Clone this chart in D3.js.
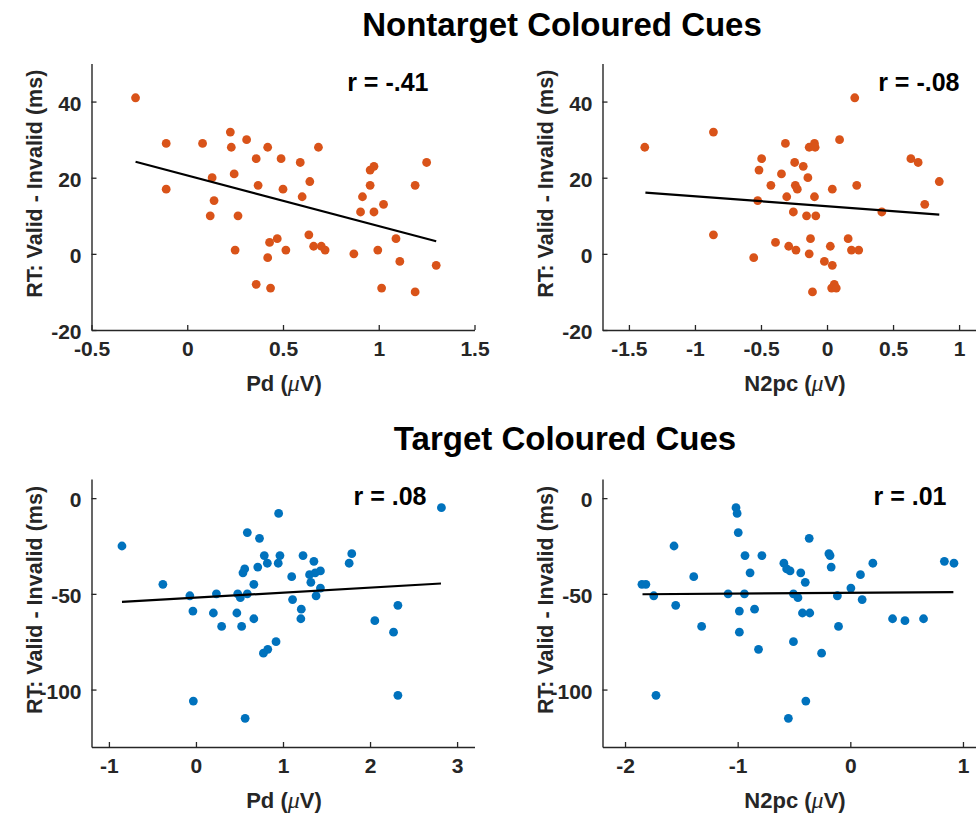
<!DOCTYPE html>
<html><head><meta charset="utf-8">
<script src="https://cdn.jsdelivr.net/npm/d3@7"></script>
<style>html,body{margin:0;padding:0;background:#fff;overflow:hidden}svg{display:block}</style>
</head><body>
<script>
// ---------- data ----------
const sectionTitles = ["Nontarget Coloured Cues", "Target Coloured Cues"];
const yLabel = "RT: Valid - Invalid (ms)";
const xLabels = ["Pd", "N2pc", "Pd", "N2pc"];
const rLabels = ["r = -.41", "r = -.08", "r = .08", "r = .01"];

const xTicks1 = [-0.5, 0, 0.5, 1, 1.5];
const xTicks2 = [-1.5, -1, -0.5, 0, 0.5, 1];
const xTicks3 = [-1, 0, 1, 2, 3];
const xTicks4 = [-2, -1, 0, 1];
const yTicksTop = [-20, 0, 20, 40];
const yTicksBottom = [-100, -50, 0];

const xDomain1 = [-0.5, 1.5];
const xDomain2 = [-1.7, 1.2];
const xDomain3 = [-1.2, 3.2];
const xDomain4 = [-2.2, 1.2];
const yDomainTop = [-20, 50];
const yDomainBottom = [-130, 10];

// Panel 1: Nontarget, Pd
const pdNontargetX = [-0.27,-0.11,-0.11,0.08,0.13,0.14,0.12,0.225,0.23,0.245,0.265,0.25,
  0.31,0.36,0.37,0.36,0.42,0.43,0.47,0.42,0.435,0.49,0.50,0.515,
  0.59,0.60,0.64,0.685,0.635,0.66,0.70,0.72,0.87,0.915,0.905,0.955,
  0.975,0.955,0.975,1.025,0.995,1.015,1.09,1.11,1.19,1.25,1.19,1.30];
const rtNontargetPd = [41,29,17,29,20,14,10,32,28,21,10,1,
  30,25,18,-8,28,3,4,-1,-9,25,17,1,
  24,15,19,28,5,2,2,1,0,15,11,22,
  23,18,11,13,1,-9,4,-2,18,24,-10,-3];

// Panel 2: Nontarget, N2pc
const n2pcNontargetX = [-1.38,-0.86,-0.86,-0.555,-0.525,-0.515,-0.495,-0.425,-0.39,-0.345,
  -0.315,-0.305,-0.29,-0.255,-0.245,-0.24,-0.225,-0.235,-0.18,-0.145,
  -0.155,-0.135,-0.125,-0.135,-0.095,-0.09,-0.095,-0.085,-0.11,-0.02,
  0.025,0.04,0.04,0.035,0.055,0.07,0.095,0.16,0.185,0.24,
  0.21,0.225,0.415,0.635,0.69,0.74,0.85];
const rtNontargetN2pc = [28,32,5,-1,14,22,25,18,3,21,
  29,15,2,11,24,18,17,1,23,20,
  10,0,4,28,29,28,15,10,-10,-2,
  2,17,-3,-9,-8,-9,30,4,1,1,
  41,18,11,25,24,13,19];

// Panel 3: Target, Pd
const pdTargetX = [-0.85,-0.38,-0.07,-0.035,-0.03,0.2,0.235,0.295,0.47,0.48,
  0.51,0.525,0.54,0.56,0.565,0.59,0.59,0.665,0.665,0.71,
  0.73,0.775,0.825,0.785,0.82,0.92,0.945,0.965,0.95,1.10,
  1.11,1.21,1.205,1.23,1.305,1.32,1.355,1.37,1.43,1.43,
  1.38,1.76,1.79,2.055,2.27,2.32,2.32,2.82];
const rtTargetPd = [-25,-45,-51,-59,-106,-60,-50,-67,-60,-50,
  -52,-67,-39,-37,-115,-50,-18,-45,-63,-36,
  -21,-81,-79,-30,-34,-75,-34,-30,-8,-41,
  -53,-58,-63,-30,-40,-44,-33,-39,-38,-47,
  -51,-34,-29,-64,-70,-56,-103,-5];

// Panel 4: Target, N2pc
const n2pcTargetX = [-1.85,-1.815,-1.745,-1.725,-1.565,-1.55,-1.39,-1.32,-1.085,-1.015,
  -1.005,-0.995,-0.985,-0.985,-0.94,-0.935,-0.89,-0.85,-0.815,-0.785,
  -0.59,-0.565,-0.535,-0.55,-0.505,-0.505,-0.465,-0.44,-0.425,-0.4,
  -0.395,-0.365,-0.36,-0.255,-0.19,-0.18,-0.17,-0.115,-0.105,0.005,
  0.09,0.105,0.2,0.375,0.485,0.65,0.835,0.92];
const rtTargetN2pc = [-45,-45,-51,-103,-25,-56,-41,-67,-50,-5,
  -8,-18,-59,-70,-50,-30,-39,-58,-79,-30,
  -34,-37,-38,-115,-50,-75,-52,-39,-60,-44,
  -106,-21,-60,-81,-29,-30,-36,-51,-67,-47,
  -40,-53,-34,-63,-64,-63,-33,-34];

// Regression line end points (x, y)
const fit1X = [-0.27, 1.30],  fit1Y = [24.2, 3.3];
const fit2X = [-1.375, 0.85], fit2Y = [16.1, 10.3];
const fit3X = [-0.85, 2.815], fit3Y = [-54.2, -44.6];
const fit4X = [-1.845, 0.915], fit4Y = [-50.2, -49.1];

// ---------- layout ----------
const W = 976, H = 818;
const ORANGE = "#D95319", BLUE = "#0072BD", AX = "#262626";
const FONT = "'Liberation Sans', Arial, Helvetica, sans-serif";
const fmt = d => String(d);   // plain hyphen-minus like the original

const panels = [
  {x0: 91.5, y0: 63.5, y1: 330, xd: xDomain1, yd: yDomainTop, xt: xTicks1, yt: yTicksTop,
   xs: pdNontargetX, ys: rtNontargetPd, fx: fit1X, fy: fit1Y, color: ORANGE, xl: xLabels[0], r: rLabels[0], rx: 337, ry: 27},
  {x0: 602.5, y0: 63.5, y1: 330, xd: xDomain2, yd: yDomainTop, xt: xTicks2, yt: yTicksTop,
   xs: n2pcNontargetX, ys: rtNontargetN2pc, fx: fit2X, fy: fit2Y, color: ORANGE, xl: xLabels[1], r: rLabels[1], rx: 357, ry: 27},
  {x0: 91.5, y0: 479, y1: 747, xd: xDomain3, yd: yDomainBottom, xt: xTicks3, yt: yTicksBottom,
   xs: pdTargetX, ys: rtTargetPd, fx: fit3X, fy: fit3Y, color: BLUE, xl: xLabels[2], r: rLabels[2], rx: 335, ry: 26},
  {x0: 602.5, y0: 479, y1: 747, xd: xDomain4, yd: yDomainBottom, xt: xTicks4, yt: yTicksBottom,
   xs: n2pcTargetX, ys: rtTargetN2pc, fx: fit4X, fy: fit4Y, color: BLUE, xl: xLabels[3], r: rLabels[3], rx: 344, ry: 26}
];
const PW = 383;

const svg = d3.select("body").append("svg").attr("width", W).attr("height", H);
svg.append("rect").attr("width", W).attr("height", H).attr("fill", "#fff");

// section titles
svg.append("text").attr("x", 562).attr("y", 36).attr("text-anchor", "middle")
  .attr("font-family", FONT).attr("font-weight", "bold").attr("font-size", 33).attr("fill", "#000")
  .text(sectionTitles[0]);
svg.append("text").attr("x", 565).attr("y", 450).attr("text-anchor", "middle")
  .attr("font-family", FONT).attr("font-weight", "bold").attr("font-size", 33).attr("fill", "#000")
  .text(sectionTitles[1]);

panels.forEach(p => {
  const x = d3.scaleLinear().domain(p.xd).range([p.x0, p.x0 + PW]);
  const y = d3.scaleLinear().domain(p.yd).range([p.y1, p.y0]);
  const g = svg.append("g");

  // points
  g.selectAll("circle").data(d3.range(p.xs.length)).join("circle")
    .attr("cx", i => x(p.xs[i])).attr("cy", i => y(p.ys[i])).attr("r", 4.4)
    .attr("fill", p.color);

  // fit line
  g.append("path")
    .datum(d3.zip(p.fx, p.fy))
    .attr("d", d3.line().x(d => x(d[0])).y(d => y(d[1])))
    .attr("stroke", "#000").attr("stroke-width", 2.2).attr("fill", "none");

  // axes
  const xAxis = d3.axisBottom(x).tickValues(p.xt).tickSize(-5).tickPadding(11)
    .tickFormat(fmt).tickSizeOuter(0);
  const gx = svg.append("g").attr("transform", `translate(0,${p.y1})`).call(xAxis);
  const yAxis = d3.axisLeft(y).tickValues(p.yt).tickSize(-5).tickPadding(10)
    .tickFormat(fmt).tickSizeOuter(0);
  const gy = svg.append("g").attr("transform", `translate(${p.x0},0)`).call(yAxis);
  [gx, gy].forEach(a => {
    a.select(".domain").attr("stroke", AX).attr("stroke-width", 1.4);
    a.selectAll(".tick line").attr("stroke", AX).attr("stroke-width", 1.3);
    a.selectAll(".tick text").attr("fill", AX).attr("font-family", FONT)
      .attr("font-weight", "bold").attr("font-size", 21);
  });
  gx.selectAll(".tick text").attr("dy", "0.71em");
  gy.selectAll(".tick text").attr("dy", "0.42em");

  // x label
  const xt = svg.append("text").attr("x", p.x0 + PW / 2 + 1).attr("y", p.y1 + 61)
    .attr("text-anchor", "middle").attr("font-family", FONT).attr("font-weight", "bold")
    .attr("font-size", 22).attr("fill", AX);
  xt.append("tspan").text(p.xl + " (");
  xt.append("tspan").attr("font-family", "'Liberation Serif', 'Times New Roman', serif")
    .attr("font-style", "italic").attr("font-weight", "normal").attr("font-size", 24).text("\u03BC");
  xt.append("tspan").text("V)");

  // y label
  svg.append("text")
    .attr("transform", `translate(${p.x0 - 50},${(p.y0 + p.y1) / 2 - 13}) rotate(-90)`)
    .attr("text-anchor", "middle").attr("font-family", FONT).attr("font-weight", "bold")
    .attr("font-size", 21.5).attr("fill", AX).text(yLabel);

  // r label
  svg.append("text").attr("x", p.x0 + p.rx).attr("y", p.y0 + p.ry)
    .attr("text-anchor", "end").attr("font-family", FONT).attr("font-weight", "bold")
    .attr("font-size", 25).attr("fill", "#000").text(p.r);
});
</script>
</body></html>
